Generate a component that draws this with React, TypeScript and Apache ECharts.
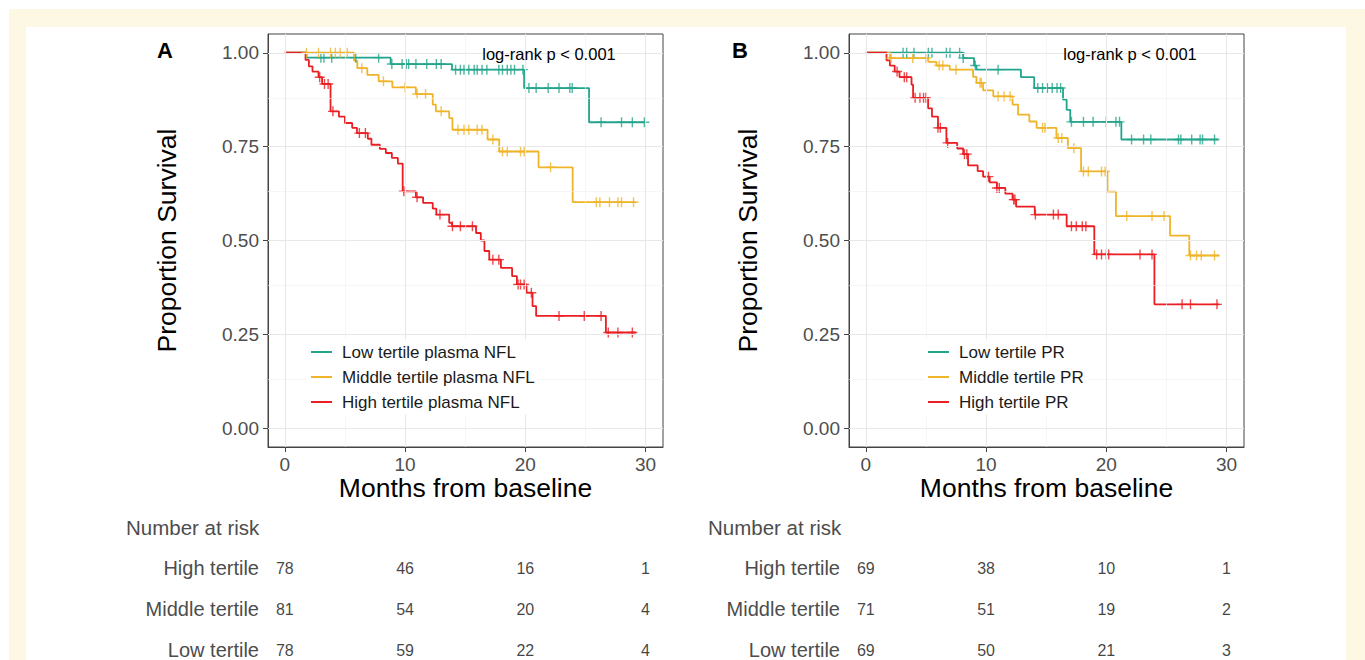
import React, { useEffect, useRef } from "react";
import * as echarts from "echarts";

const TEAL = "#23a58c";
const ORANGE = "#f0b428";
const RED = "#eb1e23";
const FONT = "'Liberation Sans', Arial, sans-serif";

const monthTicks = [0, 10, 20, 30];
const monthMinor = [5, 15, 25];
const survTicks = [0, 0.25, 0.5, 0.75, 1];
const survMinor = [0.125, 0.375, 0.625, 0.875];

// Panel A: plasma NFL tertiles (step points [month, survival])
const lowNflSteps = [[0, 1], [1.8, 0.987], [8.8, 0.97], [13.9, 0.955], [19.9, 0.906], [25.3, 0.815], [30.0, 0.815]];
const lowNflCensor = [3.0, 3.25, 3.9, 5.9, 7.8, 8.9, 9.75, 10.1, 10.3, 10.9, 11.8, 12.6, 13.0, 14.2, 14.6, 14.9, 15.3, 15.75, 16.0, 16.4, 16.8, 17.8, 18.1, 18.5, 18.8, 19.1, 19.8, 20.3, 20.9, 21.9, 22.8, 23.7, 23.9, 26.3, 28.0, 28.9, 29.9];
const midNflSteps = [[0, 1], [5.75, 0.979], [6.03, 0.959], [6.86, 0.941], [7.8, 0.924], [8.94, 0.908], [10.9, 0.89], [12.3, 0.862], [12.56, 0.844], [13.67, 0.826], [13.94, 0.795], [16.86, 0.769], [17.83, 0.737], [21.1, 0.695], [23.94, 0.602], [29.2, 0.602]];
const midNflCensor = [1.8, 2.8, 3.8, 4.2, 4.6, 5.2, 6.4, 8.2, 10.0, 11.0, 11.7, 13.0, 14.4, 14.9, 15.3, 16.0, 16.4, 17.3, 18.1, 18.5, 19.6, 19.9, 22.1, 25.9, 26.2, 27.0, 27.7, 28.0, 29.0];
const highNflSteps = [[0, 1], [1.72, 0.981], [2.0, 0.964], [2.3, 0.95], [2.8, 0.935], [3.1, 0.917], [3.8, 0.844], [4.5, 0.83], [5.0, 0.813], [5.6, 0.8], [6.0, 0.786], [6.9, 0.771], [7.2, 0.755], [7.9, 0.744], [8.4, 0.733], [8.9, 0.72], [9.4, 0.705], [9.8, 0.631], [10.9, 0.615], [11.5, 0.6], [12.3, 0.585], [12.6, 0.569], [13.67, 0.547], [13.9, 0.538], [15.9, 0.52], [16.3, 0.5], [16.6, 0.472], [17.0, 0.449], [17.97, 0.427], [18.9, 0.405], [19.3, 0.383], [20.1, 0.361], [20.6, 0.325], [20.9, 0.299], [26.7, 0.255], [29.2, 0.255]];
const highNflCensor = [2.9, 3.3, 3.6, 4.0, 6.2, 6.7, 9.9, 11.0, 12.9, 13.94, 14.6, 15.6, 17.3, 17.8, 19.4, 19.6, 19.9, 20.5, 22.8, 24.9, 26.3, 26.9, 27.7, 28.9];

// Panel B: PR tertiles
const lowPrSteps = [[0, 1], [8.1, 0.986], [9.0, 0.966], [9.2, 0.955], [12.9, 0.935], [14.0, 0.906], [16.4, 0.875], [16.7, 0.848], [17.0, 0.816], [21.25, 0.769], [29.3, 0.769]];
const lowPrCensor = [3.1, 3.4, 4.0, 5.2, 5.5, 6.7, 7.0, 7.8, 8.1, 9.1, 11.0, 14.3, 14.7, 15.1, 15.5, 15.9, 16.2, 17.1, 18.1, 18.9, 20.0, 20.8, 21.1, 22.1, 23.1, 23.7, 26.0, 26.2, 27.1, 27.8, 28.0, 29.0];
const midPrSteps = [[0, 1], [2.0, 0.986], [5.18, 0.976], [5.87, 0.966], [6.98, 0.955], [8.92, 0.936], [9.2, 0.92], [9.75, 0.9], [10.6, 0.884], [12.2, 0.862], [12.66, 0.835], [13.6, 0.817], [14.2, 0.8], [15.85, 0.773], [16.8, 0.746], [17.9, 0.684], [20.1, 0.63], [20.8, 0.565], [25.3, 0.513], [26.9, 0.46], [29.4, 0.46]];
const midPrCensor = [2.1, 3.9, 5.0, 6.1, 6.4, 7.5, 9.5, 9.6, 11.0, 11.5, 12.0, 14.7, 14.9, 16.0, 16.3, 17.3, 18.1, 18.5, 19.6, 19.9, 21.7, 23.8, 24.8, 27.0, 27.5, 27.9, 29.0];
const highPrSteps = [[0, 1], [1.72, 0.98], [2.0, 0.966], [2.4, 0.95], [2.8, 0.935], [3.8, 0.915], [3.93, 0.88], [5.18, 0.852], [5.5, 0.83], [6.0, 0.8], [6.7, 0.76], [7.6, 0.745], [8.1, 0.73], [8.5, 0.7], [9.3, 0.685], [9.75, 0.67], [10.3, 0.655], [10.9, 0.64], [11.6, 0.625], [12.2, 0.609], [12.5, 0.59], [14.05, 0.569], [16.7, 0.538], [19.0, 0.463], [24.0, 0.33], [29.4, 0.33]];
const highPrCensor = [2.6, 3.2, 3.4, 4.1, 4.5, 4.8, 5.0, 6.0, 6.2, 6.8, 8.2, 8.4, 10.2, 10.9, 11.1, 12.3, 12.4, 14.1, 15.6, 16.0, 17.1, 17.5, 18.0, 18.3, 19.2, 19.6, 20.0, 20.2, 22.8, 23.8, 26.3, 27.0, 29.2];

// Number at risk
const riskTimes = [0, 10, 20, 30];
const riskRows = ["Low tertile", "Middle tertile", "High tertile"];
const riskAHigh = [78, 46, 16, 1];
const riskAMid = [81, 54, 20, 4];
const riskALow = [78, 59, 22, 4];
const riskBHigh = [69, 38, 10, 1];
const riskBMid = [71, 51, 19, 2];
const riskBLow = [69, 50, 21, 3];

const namesA = ["Low tertile plasma NFL", "Middle tertile plasma NFL", "High tertile plasma NFL"];
const namesB = ["Low tertile PR", "Middle tertile PR", "High tertile PR"];

function survAt(steps: number[][], t: number) {
  let v = steps[0][1];
  for (const s of steps) if (s[0] <= t) v = s[1];
  return v;
}

const X_MIN = -1.4;
const X_MAX = 31.45;

function kmSeries(name: string, steps: number[][], color: string, idx: number) {
  return {
    type: "line", name, xAxisIndex: idx, yAxisIndex: idx, data: steps, step: "end",
    symbol: "none", showSymbol: false, silent: true, z: 3,
    lineStyle: { color, width: 1.8 }, itemStyle: { color },
  };
}
function censorSeries(name: string, steps: number[][], times: number[], color: string, idx: number) {
  return {
    type: "scatter", name: name + " (censored)", xAxisIndex: idx, yAxisIndex: idx,
    data: times.map((t) => [t, survAt(steps, t)]),
    symbol: "path://M5,0L5,10M0,5L10,5", symbolSize: [10, 10], silent: true, z: 4,
    itemStyle: { color: "rgba(0,0,0,0)", borderColor: color, borderWidth: 1.4 },
  };
}
function gridLineSeries(idx: number) {
  const major = { color: "#e8e8e8", width: 1.1, type: "solid" };
  const minor = { color: "#f0f0f0", width: 0.6, type: "solid" };
  return {
    type: "line", name: "grid" + idx, xAxisIndex: idx, yAxisIndex: idx, data: [], z: 1, silent: true,
    markLine: {
      silent: true, symbol: ["none", "none"], animation: false, label: { show: false },
      data: [
        ...survMinor.map((v) => ({ yAxis: v, lineStyle: minor })),
        ...monthMinor.map((v) => ({ xAxis: v, lineStyle: minor })),
        ...survTicks.map((v) => ({ yAxis: v, lineStyle: major })),
        ...monthTicks.map((v) => ({ xAxis: v, lineStyle: major })),
      ],
    },
  };
}
function riskSeries(idx: number, high: number[], mid: number[], low: number[]) {
  const rows = [low, mid, high];
  const data: any[] = [];
  rows.forEach((r, ri) => r.forEach((n, ti) => data.push([riskTimes[ti], riskRows[ri], n])));
  return {
    type: "scatter", name: "risk" + idx, xAxisIndex: idx, yAxisIndex: idx, data, silent: true,
    symbolSize: 1, itemStyle: { color: "rgba(0,0,0,0)" },
    label: { show: true, position: "inside", formatter: (p: any) => String(p.value[2]), fontSize: 16, color: "#111", fontFamily: FONT },
  };
}

function valueX(gridIndex: number) {
  return {
    type: "value", gridIndex, min: X_MIN, max: X_MAX,
    name: "Months from baseline", nameLocation: "middle", nameGap: 27, nameMoveOverlap: false,
    nameTextStyle: { fontSize: 26.5, color: "#000", fontFamily: FONT },
    splitLine: { show: false },
    axisLine: { show: true, onZero: false, lineStyle: { color: "#444", width: 1 } },
    axisTick: { show: true, customValues: monthTicks, length: 5, lineStyle: { color: "#444" } },
    axisLabel: { show: true, customValues: monthTicks, fontSize: 19, color: "#4d4d4d", margin: 8, fontFamily: FONT },
  };
}
function valueY(gridIndex: number) {
  return {
    type: "value", gridIndex, min: -0.05, max: 1.05,
    name: "Proportion Survival", nameLocation: "middle", nameGap: 88,
    nameTextStyle: { fontSize: 26.5, color: "#000", fontFamily: FONT },
    splitLine: { show: false },
    axisLine: { show: true, onZero: false, lineStyle: { color: "#444", width: 1 } },
    axisTick: { show: true, customValues: survTicks, length: 5, lineStyle: { color: "#444" } },
    axisLabel: { show: true, customValues: survTicks, fontSize: 19, color: "#4d4d4d", margin: 9, fontFamily: FONT, formatter: (v: number) => v.toFixed(2) },
  };
}
function riskX(gridIndex: number) {
  return { type: "value", gridIndex, min: X_MIN, max: X_MAX, show: false, splitLine: { show: false } };
}
function riskY(gridIndex: number) {
  return {
    type: "category", gridIndex, data: riskRows, boundaryGap: false,
    axisLine: { show: false }, axisTick: { show: false }, splitLine: { show: false },
    axisLabel: { fontSize: 20, color: "#4d4d4d", margin: 9, fontFamily: FONT },
  };
}
function legendFor(names: string[], left: number) {
  return {
    data: names, orient: "vertical", left, top: 339.5, itemWidth: 21, itemHeight: 2, itemGap: 0,
    icon: "rect", selectedMode: false, backgroundColor: "#fff", padding: [0, 4, 0, 4], z: 10,
    textStyle: { fontSize: 17, color: "#1a1a1a", lineHeight: 25, padding: [0, 0, 0, 5], fontFamily: FONT },
  };
}

export default function App() {
  const ref = useRef<HTMLDivElement>(null);
  useEffect(() => {
    const chart = echarts.init(ref.current!, null, { renderer: "svg" });
    const option: any = {
      animation: false,
      textStyle: { fontFamily: FONT },
      grid: [
        { left: 268, top: 34, width: 395, height: 413, show: true, borderColor: "#444", borderWidth: 1, backgroundColor: "#fff" },
        { left: 849, top: 34, width: 395, height: 413, show: true, borderColor: "#444", borderWidth: 1, backgroundColor: "#fff" },
        { left: 268, top: 568, width: 395, height: 82 },
        { left: 849, top: 568, width: 395, height: 82 },
      ],
      xAxis: [valueX(0), valueX(1), riskX(2), riskX(3)],
      yAxis: [valueY(0), valueY(1), riskY(2), riskY(3)],
      legend: [legendFor(namesA, 307), legendFor(namesB, 924)],
      series: [
        gridLineSeries(0),
        gridLineSeries(1),
        kmSeries(namesA[0], lowNflSteps, TEAL, 0),
        kmSeries(namesA[1], midNflSteps, ORANGE, 0),
        kmSeries(namesA[2], highNflSteps, RED, 0),
        censorSeries(namesA[0], lowNflSteps, lowNflCensor, TEAL, 0),
        censorSeries(namesA[1], midNflSteps, midNflCensor, ORANGE, 0),
        censorSeries(namesA[2], highNflSteps, highNflCensor, RED, 0),
        kmSeries(namesB[0], lowPrSteps, TEAL, 1),
        kmSeries(namesB[1], midPrSteps, ORANGE, 1),
        kmSeries(namesB[2], highPrSteps, RED, 1),
        censorSeries(namesB[0], lowPrSteps, lowPrCensor, TEAL, 1),
        censorSeries(namesB[1], midPrSteps, midPrCensor, ORANGE, 1),
        censorSeries(namesB[2], highPrSteps, highPrCensor, RED, 1),
        riskSeries(2, riskAHigh, riskAMid, riskALow),
        riskSeries(3, riskBHigh, riskBMid, riskBLow),
      ],
      graphic: [
        { type: "text", z: 50, x: 165, y: 50, style: { text: "A", fill: "#000", font: "bold 22px " + FONT, align: "center", verticalAlign: "middle" } },
        { type: "text", z: 50, x: 740, y: 50, style: { text: "B", fill: "#000", font: "bold 22px " + FONT, align: "center", verticalAlign: "middle" } },
        { type: "text", z: 50, x: 549, y: 54, style: { text: "log-rank p < 0.001", font: "16.5px " + FONT, fill: "#000", align: "center", verticalAlign: "middle" } },
        { type: "text", z: 50, x: 1130, y: 54, style: { text: "log-rank p < 0.001", font: "16.5px " + FONT, fill: "#000", align: "center", verticalAlign: "middle" } },
        { type: "text", z: 50, x: 126, y: 527, style: { text: "Number at risk", font: "20.5px " + FONT, fill: "#4d4d4d", align: "left", verticalAlign: "middle" } },
        { type: "text", z: 50, x: 708, y: 527, style: { text: "Number at risk", font: "20.5px " + FONT, fill: "#4d4d4d", align: "left", verticalAlign: "middle" } },
      ],
    };
    chart.setOption(option);
    return () => chart.dispose();
  }, []);
  return (
    <div style={{ position: "fixed", left: 0, top: 0, width: 1365, height: 660, background: "#fff", overflow: "hidden" }}>
      <div style={{ position: "absolute", left: 9, top: 9, width: 1356, height: 651, background: "#fdf8e3" }} />
      <div style={{ position: "absolute", left: 26, top: 27, width: 1320, height: 633, background: "#fff" }} />
      <div ref={ref} style={{ position: "absolute", left: 0, top: 0, width: 1365, height: 660 }} />
    </div>
  );
}
